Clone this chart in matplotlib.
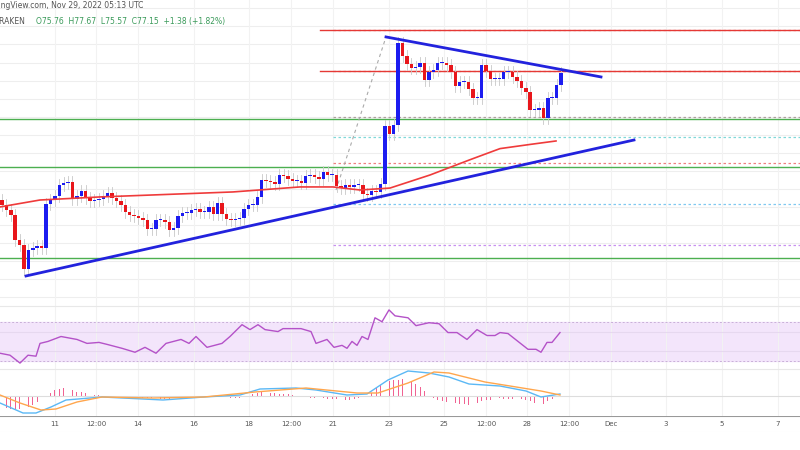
import numpy as np
import matplotlib
matplotlib.use("Agg")
import matplotlib.pyplot as plt

# ---------------- data ----------------
closes = [67.64, 67.28, 66.92, 65.12, 64.76, 63.03, 64.4, 64.54, 64.69, 64.54, 67.71, 68.0, 68.29,
          69.08, 69.22, 69.3, 68.07, 68.29, 68.65, 68.14, 67.93, 68.0, 68.07, 68.29, 68.5, 68.14,
          67.93, 67.64, 67.14, 66.92, 66.85, 66.7, 66.56, 65.91, 65.91, 66.56, 66.56, 66.42, 65.84,
          65.98, 66.85, 67.06, 67.06, 67.28, 67.35, 67.14, 67.14, 67.5, 66.99, 67.78, 66.99, 66.63,
          66.56, 66.63, 66.7, 67.35, 67.64, 67.64, 68.22, 69.44, 69.37, 69.3, 69.15, 69.8, 69.73,
          69.51, 69.37, 69.37, 69.22, 69.73, 69.8, 69.66, 69.51, 70.02, 69.8, 69.8, 69.01, 68.86,
          69.08, 68.94, 69.08, 69.08, 68.43, 68.36, 68.65, 68.58, 69.15, 73.33,
          72.75, 73.4, 79.3, 78.37, 77.79, 77.5, 77.58, 77.86, 76.64, 77.22, 77.36, 77.86, 77.86,
          77.72, 77.22, 76.21, 76.5, 76.5, 75.99, 75.34, 75.34, 77.72, 77.29, 76.71, 76.71, 76.71,
          77.22, 77.22, 76.86, 76.57, 76.06, 75.78, 74.48, 74.48, 74.62, 73.9, 75.34, 75.34, 76.28,
          77.15]
first_open = 68.0

ma_x = [0, 40, 100, 233, 300, 333, 360, 390, 430, 470, 500, 530, 556]
ma_v = [67.5, 68.0, 68.22, 68.58, 68.94, 68.94, 68.72, 68.86, 69.8, 70.9, 71.7, 72.0, 72.25]

levels_solid = {"#e53935": [80.24, 77.29], "#4caf50": [73.83, 70.38, 63.82]}
levels_dotted = [(73.98, "#b0a0a0"), (72.54, "#7fd8d8"), (70.66, "#f08080"),
                 (67.71, "#7fc8f0"), (64.76, "#c890f0"), (80.24, "#e57373"), (77.29, "#e57373")]

support_x, support_y = [26, 634], [62.53, 72.32]
resist_x, resist_y = [386, 601], [79.74, 76.86]
proj_x, proj_y = [336, 386], [68.72, 79.74]

rsi_x = [0, 10, 20, 28, 36, 40, 48, 61, 77, 87, 99, 107, 122, 135, 145, 156, 166, 181, 189, 196,
         207, 222, 230, 242, 250, 258, 265, 278, 283, 301, 311, 316, 327, 334, 342, 347, 352, 357,
         362, 368, 375, 382, 389, 395, 408, 416, 429, 439, 448, 457, 467, 477, 487, 495, 500, 508,
         518, 528, 536, 541, 547, 552, 560]
rsi_v = [38, 36, 28, 36, 35, 48, 50, 55, 52, 48, 49, 47, 43, 39, 44, 38, 48, 52, 48, 55, 44, 48,
         55, 67, 62, 67, 62, 60, 63, 63, 60, 48, 52, 44, 46, 43, 50, 46, 55, 52, 74, 70, 82, 76, 74,
         66, 69, 68, 59, 59, 52, 62, 56, 56, 59, 58, 50, 42, 42, 39, 49, 49, 59]

macd_x = [0, 23, 36, 51, 66, 102, 143, 163, 204, 240, 260, 296, 316, 347, 367, 388, 408, 429, 449,
          469, 500, 526, 541, 560]
macd_v = [-0.7, -1.7, -1.7, -1.1, -0.4, -0.1, -0.3, -0.4, -0.1, 0.1, 0.7, 0.8, 0.6, 0.1, 0.2, 1.6,
          2.5, 2.3, 1.9, 1.2, 1.0, 0.5, -0.1, 0.2]
sig_x = [0, 20, 41, 56, 77, 102, 153, 204, 255, 306, 357, 378, 408, 434, 449, 485, 510, 541, 560]
sig_v = [0.1, -0.7, -1.4, -1.3, -0.6, -0.1, -0.2, -0.1, 0.4, 0.8, 0.3, 0.3, 1.3, 2.4, 2.3, 1.4, 1.0,
         0.5, 0.1]

tick_x = [55, 96, 138, 194, 249, 291, 333, 389, 444, 486, 527, 569, 611, 666, 722, 778]
tick_labels = ["11", "12:00", "14", "16", "18", "12:00", "21", "23", "25", "12:00", "28", "12:00",
               "Dec", "3", "5", "7"]

# ---------------- figure ----------------
W, H = 800, 450
fig = plt.figure(figsize=(8, 4.5), dpi=100)

def add_ax(top, bottom):
    return fig.add_axes([0, 1 - bottom / H, 1, (bottom - top) / H])

ax = add_ax(0, 305)
ax.set_xlim(0, 800)
ax.set_ylim(60.44, 82.4)

for g in np.arange(61.0, 82.4, 1.3):
    ax.axhline(g, color="#eeeeee", lw=0.8, zorder=0)
for tx in tick_x:
    ax.axvline(tx, color="#f2f2f2", lw=0.8, zorder=0)

for c, vals in levels_solid.items():
    for v in vals:
        if c == "#e53935":
            ax.plot([320, 800], [v, v], color=c, lw=1.0, zorder=2)
        else:
            ax.axhline(v, color=c, lw=1.0, zorder=2)
for v, c in levels_dotted:
    ax.plot([333, 800], [v, v], color=c, lw=0.9, ls=(0, (2, 2)), zorder=1)

N = len(closes)
s = 559.0 / (N - 1)
opens = [first_open] + closes[:-1]
for i, (o, c) in enumerate(zip(opens, closes)):
    x = 2 + i * s
    col = "#1c1cf0" if c >= o else "#e8161b"
    ax.plot([x, x], [min(o, c) - 0.45, max(o, c) + 0.45], color="#c8c8c8", lw=0.6, zorder=3)
    lo, hi = min(o, c), max(o, c)
    if hi - lo < 0.08:
        hi = lo + 0.08
    ax.bar(x, hi - lo, bottom=lo, width=s * 0.78, color=col, zorder=4)

ax.plot(ma_x, ma_v, color="#ef3b3b", lw=1.2, zorder=5)
ax.plot(support_x, support_y, color="#2222dd", lw=2, zorder=6)
ax.plot(resist_x, resist_y, color="#2222dd", lw=2, zorder=6)
ax.plot(proj_x, proj_y, color="#aaaaaa", lw=0.8, ls=(0, (3, 3)), zorder=2)

ax.text(-18, 82.4 - 6 * 0.072, "TradingView.com, Nov 29, 2022 05:13 UTC", fontsize=5.5,
        color="#555555", va="center", ha="left")
ax.text(-6, 82.4 - 22 * 0.072, "KRAKEN", fontsize=5.5, color="#555555", va="center", ha="left")
ax.text(36, 82.4 - 22 * 0.072, "O75.76  H77.67  L75.57  C77.15  +1.38 (+1.82%)", fontsize=5.5,
        color="#3a9a5a", va="center", ha="left")
ax.axis("off")

ax2 = add_ax(305, 368)
ax2.set_xlim(0, 800)
ax2.set_ylim(23, 87)
ax2.axhspan(30, 70, color="#f3e5fb", zorder=0)
for v in (30, 70):
    ax2.axhline(v, color="#c9b0d8", lw=0.7, ls=(0, (2, 2)))
for v in (40, 60):
    ax2.axhline(v, color="#e6d8ef", lw=0.8)
ax2.axhline(86, color="#e8e8e8", lw=0.8)
ax2.plot(rsi_x, rsi_v, color="#b452c8", lw=1.0)
for tx in tick_x:
    ax2.axvline(tx, color="#f2f2f2", lw=0.8, zorder=0)
ax2.axis("off")

ax3 = add_ax(368, 416)
ax3.set_xlim(0, 800)
ax3.set_ylim(-2.0, 2.8)
ax3.axhline(0, color="#dddddd", lw=0.8)
ax3.axhline(2.75, color="#e8e8e8", lw=0.8)
for tx in tick_x:
    ax3.axvline(tx, color="#f2f2f2", lw=0.8, zorder=0)
hx = np.arange(2, 561, s)
hist = np.interp(hx, macd_x, macd_v) - np.interp(hx, sig_x, sig_v)
ax3.bar(hx, hist * 1.5, width=0.8, color="#f06292")
ax3.plot(macd_x, macd_v, color="#5bb8f5", lw=1.0)
ax3.plot(sig_x, sig_v, color="#ffa64d", lw=1.0)
ax3.axis("off")

ax4 = add_ax(416, 432)
ax4.set_xlim(0, 800)
ax4.set_ylim(0, 1)
ax4.axhline(0.97, color="#999999", lw=1.5)
ax4.axhline(0.0, color="#eeeeee", lw=0.8)
for tx, tl in zip(tick_x, tick_labels):
    ax4.text(tx, 0.5, tl, fontsize=5, color="#555555", ha="center", va="center")
ax4.axis("off")

fig.savefig("out.png", dpi=100)
